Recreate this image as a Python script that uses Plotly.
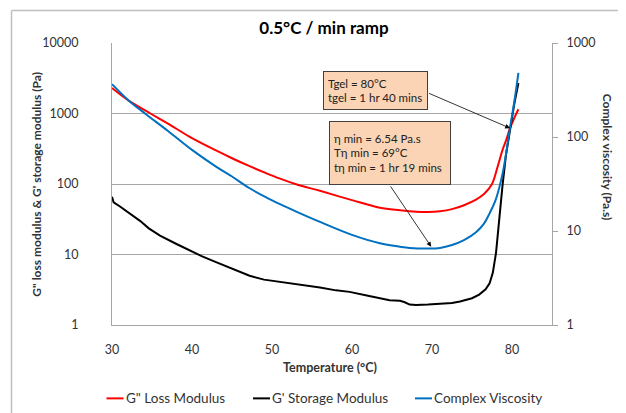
import math
import plotly.graph_objects as go

# ---------------- data ----------------
temp_loss = [30, 32, 34.8, 37, 40, 43, 45, 47.2, 49.1, 51, 53.1, 56, 60, 63.5, 66, 68,
             69.5, 71, 72.5, 74, 75.5, 76.5, 77.5, 78.2, 78.8, 79.3, 79.75, 80.3, 80.8]
loss_modulus = [2300, 1550, 1000, 720, 447, 299, 232, 179, 145, 119, 98.5, 80, 59, 46, 42.5, 40.5,
                40, 41, 44, 50, 60, 72, 100, 176, 300, 430, 620, 870, 1150]

temp_storage = [30.0, 30.2, 31, 32, 33.5, 34.6, 36, 38, 40, 41.2, 43, 45, 47.2, 49, 51, 53.5,
                56, 58, 59.7, 62, 64.7, 66, 66.6, 67.2, 68, 69.5, 71, 72.5, 73.5, 75, 75.9,
                76.7, 77.2, 77.6, 78, 78.4, 78.8, 79.25, 79.75, 80.3, 80.8]
storage_modulus = [66, 55, 48, 40, 30, 23.5, 18.5, 14.2, 11, 9.5, 7.8, 6.3, 5.0, 4.4, 4.1, 3.8,
                   3.4, 3.1, 2.95, 2.6, 2.25, 2.2, 2.1, 1.95, 1.92, 1.95, 1.98, 2.05, 2.15, 2.4, 2.7,
                   3.2, 3.9, 5.5, 10.5, 35, 92, 260, 620, 1400, 2700]

temp_visc = [30, 32, 34.2, 37, 40, 43, 45, 47.2, 49.1, 51, 53.1, 56, 60, 63.5, 66, 67.2,
             69.5, 71, 72.5, 74, 75.5, 76.5, 77.2, 78, 78.8, 79.3, 79.75, 80.3, 80.8]
complex_viscosity = [365, 248, 176, 116, 73, 48.5, 38, 28.5, 23.2, 19.3, 16, 12.5, 9.1, 7.4, 6.8, 6.6,
                     6.5, 6.6, 7.1, 8.0, 9.7, 12, 15.4, 22, 40, 70, 125, 240, 480]

x_ticks = [30, 40, 50, 60, 70, 80]
left_ticks = [1, 10, 100, 1000, 10000]
right_ticks = [1, 10, 100, 1000]

gel_point = (79.75, 620)        # crossover G' = G''
visc_min = (69.9, 6.8)          # minimum of complex viscosity

series_names = ['G" Loss Modulus', "G' Storage Modulus", "Complex Viscosity"]
series_colors = ["#FF0000", "#000000", "#0070C0"]

FONT = "Lato"
TXT = "#333333"

# plot area in page pixels: x 112..552, y 43..325.5 (page body has an 8px offset)
PX0, PW, PY1, PH = 112.0, 440.0, 325.5, 282.5


def px(x):
    return (x - PX0) / PW


def py(y):
    return (PY1 - y) / PH


fig = go.Figure()
fig.add_trace(go.Scatter(x=temp_loss, y=loss_modulus, name=series_names[0], mode="lines",
                         line=dict(color=series_colors[0], width=2, shape="spline"), yaxis="y"))
fig.add_trace(go.Scatter(x=temp_storage, y=storage_modulus, name=series_names[1], mode="lines",
                         line=dict(color=series_colors[1], width=2), yaxis="y"))
fig.add_trace(go.Scatter(x=temp_visc, y=complex_viscosity, name=series_names[2], mode="lines",
                         line=dict(color=series_colors[2], width=2, shape="spline"), yaxis="y2"))

annotations = [
    # axis titles
    dict(text="<b>G\" loss modulus &amp; G' storage modulus (Pa)</b>", xref="paper", yref="paper",
         x=px(37), y=py(185), xanchor="center", yanchor="middle", textangle=-90, showarrow=False,
         font=dict(size=12, color=TXT, family=FONT)),
    dict(text="<b>Complex viscosity (Pa.s)</b>", xref="paper", yref="paper",
         x=px(607), y=py(157), xanchor="center", yanchor="middle", textangle=90, showarrow=False,
         font=dict(size=12, color=TXT, family=FONT)),
    dict(text="<b>Temperature (°C)</b>", xref="paper", yref="paper",
         x=px(330), y=py(368), xanchor="center", yanchor="middle", showarrow=False,
         font=dict(size=12.5, color=TXT, family=FONT)),
    # text boxes
    dict(text="Tgel = 80°C<br>tgel = 1 hr 40 mins", xref="paper", yref="paper",
         x=px(323), y=py(71), xanchor="left", yanchor="top",
         showarrow=False, align="left", bgcolor="#FAD4B4", bordercolor="#404040", borderwidth=1,
         borderpad=4, width=95, height=29, font=dict(size=11.5, color="#222", family=FONT)),
    dict(text="η min = 6.54 Pa.s<br>Tη min = 69°C<br>tη min = 1 hr 19 mins", xref="paper", yref="paper",
         x=px(329), y=py(121), xanchor="left", yanchor="top",
         showarrow=False, align="left", bgcolor="#FAD4B4", bordercolor="#404040", borderwidth=1,
         borderpad=4, width=112, height=54, font=dict(size=11.5, color="#222", family=FONT)),
    # arrows
    dict(text="", x=gel_point[0], y=math.log10(gel_point[1]), xref="x", yref="y",
         ax=69.44, ay=3.295, axref="x", ayref="y", showarrow=True,
         arrowhead=2, arrowsize=1.2, arrowwidth=0.8, arrowcolor="#000"),
    dict(text="", x=visc_min[0], y=math.log10(visc_min[1]), xref="x", yref="y2",
         ax=64.7, ay=1.49, axref="x", ayref="y2", showarrow=True,
         arrowhead=2, arrowsize=1.2, arrowwidth=0.8, arrowcolor="#000"),
]

shapes = [
    dict(type="line", xref="paper", yref="paper", x0=px(11.5), x1=px(11.5),
         y0=py(10.5), y1=py(420), line=dict(color="#BFBFBF", width=1.5)),
    dict(type="line", xref="paper", yref="paper", x0=px(11.5), x1=px(630),
         y0=py(10.5), y1=py(10.5), line=dict(color="#BFBFBF", width=1.5)),
]

# legend drawn as line samples + text
legend_x = [106.5, 253, 415]
legend_y = 399
for name, color, lx in zip(series_names, series_colors, legend_x):
    shapes.append(dict(type="line", xref="paper", yref="paper", x0=px(lx), x1=px(lx + 17),
                       y0=py(legend_y), y1=py(legend_y), line=dict(color=color, width=2)))
    annotations.append(dict(text=name, xref="paper", yref="paper", x=px(lx + 17), y=py(legend_y),
                            xanchor="left", yanchor="middle", showarrow=False,
                            font=dict(size=13.5, color=TXT, family=FONT)))

fig.update_layout(
    width=618, height=405,
    margin=dict(l=104, r=74, t=35, b=88, autoexpand=False),
    paper_bgcolor="white", plot_bgcolor="white",
    font=dict(family=FONT, size=12, color=TXT),
    title=dict(text="<b>0.5°C / min ramp</b>", x=px(324), xref="paper", y=1 - 20 / 405,
               yanchor="middle", xanchor="center", font=dict(size=17, color="#000", family=FONT)),
    xaxis=dict(range=[30, 85], tickvals=x_ticks, showgrid=False, showline=True, linecolor="#A6A6A6",
               linewidth=1, ticks="", ticklabelstandoff=13, zeroline=False, automargin=False,
               tickfont=dict(size=12.5, color=TXT)),
    yaxis=dict(type="log", range=[0, 4], tickvals=left_ticks, ticktext=[str(v) for v in left_ticks],
               showgrid=True, gridcolor="#A6A6A6", gridwidth=1, showline=True, linecolor="#A6A6A6",
               linewidth=1, ticks="", ticklabelstandoff=30, zeroline=False, automargin=False,
               tickfont=dict(size=12.5, color=TXT)),
    yaxis2=dict(type="log", range=[0, 3], tickvals=right_ticks, ticktext=[str(v) for v in right_ticks],
                overlaying="y", side="right", showgrid=False, showline=True, linecolor="#A6A6A6",
                linewidth=1, ticks="outside", ticklen=5, tickcolor="#A6A6A6", ticklabelstandoff=6,
                zeroline=False, automargin=False, tickfont=dict(size=12.5, color=TXT)),
    annotations=annotations,
    shapes=shapes,
    showlegend=False,
)

fig.write_html("out.html")
